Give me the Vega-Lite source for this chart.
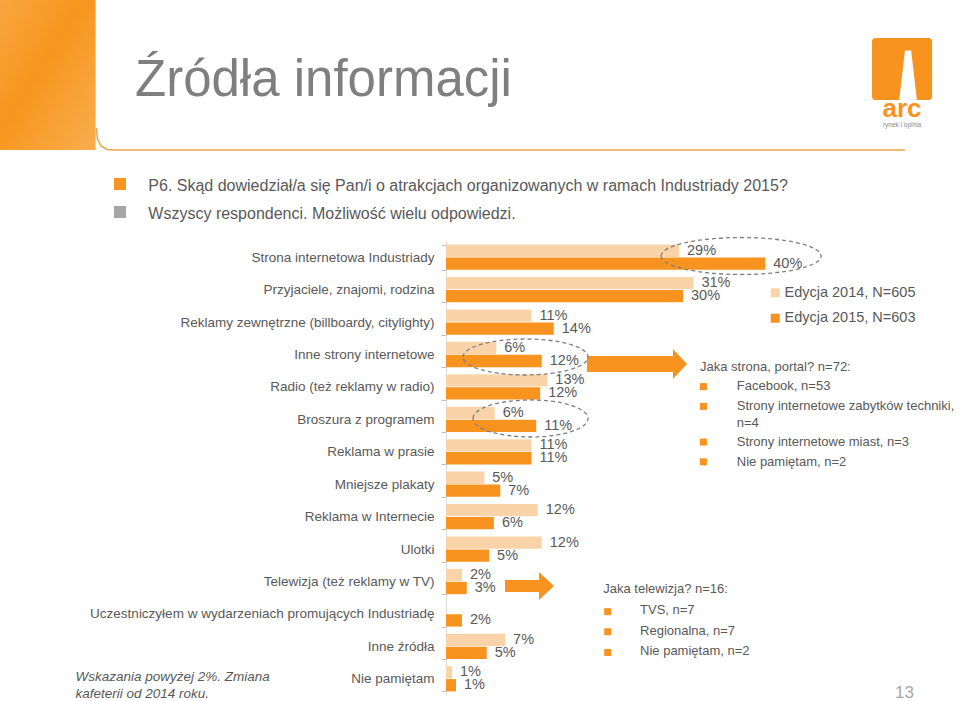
{
  "$schema": "https://vega.github.io/schema/vega-lite/v6.json",
  "width": 514,
  "height": 454,
  "autosize": {"type": "none"},
  "padding": {"left": 446, "top": 241, "right": 0, "bottom": 6},
  "background": "#ffffff",
  "config": {"view": {"stroke": null}, "font": "Liberation Sans"},
  "title": {
    "text": "Źródła informacji",
    "subtitle": ["\u200b\u00a0\u00a0\u00a0P6. Skąd dowiedział/a się Pan/i o atrakcjach organizowanych w ramach Industriady 2015?", "\u200b\u00a0\u00a0\u00a0Wszyscy respondenci. Możliwość wielu odpowiedzi."],
    "anchor": "start",
    "frame": "group",
    "orient": "top",
    "offset": 0,
    "dx": -311,
    "dy": 225,
    "font": "Liberation Sans",
    "fontSize": 51,
    "fontWeight": "normal",
    "color": "#7F7F7F",
    "subtitleFont": "Liberation Sans",
    "subtitleFontSize": 16,
    "subtitleColor": "#595959",
    "subtitleLineHeight": 28,
    "subtitlePadding": 71
  },
  "datasets": {
    "main": [
      {"source": "Strona internetowa Industriady", "series": "Edycja 2014, N=605", "value": 29.2, "label": "29%"},
      {"source": "Strona internetowa Industriady", "series": "Edycja 2015, N=603", "value": 40.0, "label": "40%"},
      {"source": "Przyjaciele, znajomi, rodzina", "series": "Edycja 2014, N=605", "value": 31.0, "label": "31%"},
      {"source": "Przyjaciele, znajomi, rodzina", "series": "Edycja 2015, N=603", "value": 29.7, "label": "30%"},
      {"source": "Reklamy zewnętrzne (billboardy, citylighty)", "series": "Edycja 2014, N=605", "value": 10.7, "label": "11%"},
      {"source": "Reklamy zewnętrzne (billboardy, citylighty)", "series": "Edycja 2015, N=603", "value": 13.5, "label": "14%"},
      {"source": "Inne strony internetowe", "series": "Edycja 2014, N=605", "value": 6.3, "label": "6%"},
      {"source": "Inne strony internetowe", "series": "Edycja 2015, N=603", "value": 12.0, "label": "12%"},
      {"source": "Radio (też reklamy w radio)", "series": "Edycja 2014, N=605", "value": 12.7, "label": "13%"},
      {"source": "Radio (też reklamy w radio)", "series": "Edycja 2015, N=603", "value": 11.8, "label": "12%"},
      {"source": "Broszura z programem", "series": "Edycja 2014, N=605", "value": 6.1, "label": "6%"},
      {"source": "Broszura z programem", "series": "Edycja 2015, N=603", "value": 11.3, "label": "11%"},
      {"source": "Reklama w prasie", "series": "Edycja 2014, N=605", "value": 10.7, "label": "11%"},
      {"source": "Reklama w prasie", "series": "Edycja 2015, N=603", "value": 10.7, "label": "11%"},
      {"source": "Mniejsze plakaty", "series": "Edycja 2014, N=605", "value": 4.8, "label": "5%"},
      {"source": "Mniejsze plakaty", "series": "Edycja 2015, N=603", "value": 6.8, "label": "7%"},
      {"source": "Reklama w Internecie", "series": "Edycja 2014, N=605", "value": 11.5, "label": "12%"},
      {"source": "Reklama w Internecie", "series": "Edycja 2015, N=603", "value": 6.0, "label": "6%"},
      {"source": "Ulotki", "series": "Edycja 2014, N=605", "value": 12.0, "label": "12%"},
      {"source": "Ulotki", "series": "Edycja 2015, N=603", "value": 5.4, "label": "5%"},
      {"source": "Telewizja (też reklamy w TV)", "series": "Edycja 2014, N=605", "value": 2.0, "label": "2%"},
      {"source": "Telewizja (też reklamy w TV)", "series": "Edycja 2015, N=603", "value": 2.6, "label": "3%"},
      {"source": "Uczestniczyłem w wydarzeniach promujących Industriadę", "series": "Edycja 2015, N=603", "value": 2.0, "label": "2%"},
      {"source": "Inne źródła", "series": "Edycja 2014, N=605", "value": 7.4, "label": "7%"},
      {"source": "Inne źródła", "series": "Edycja 2015, N=603", "value": 5.1, "label": "5%"},
      {"source": "Nie pamiętam", "series": "Edycja 2014, N=605", "value": 0.75, "label": "1%"},
      {"source": "Nie pamiętam", "series": "Edycja 2015, N=603", "value": 1.25, "label": "1%"}
    ],
    "notes": [
      {"x": 31.83, "row": 3.876, "text": "Jaka strona, portal? n=72:"},
      {"x": 36.43, "row": 4.47, "text": "Facebook, n=53"},
      {"x": 36.43, "row": 5.08, "text": "Strony internetowe zabytków techniki,"},
      {"x": 36.43, "row": 5.60, "text": "n=4"},
      {"x": 36.43, "row": 6.19, "text": "Strony internetowe miast, n=3"},
      {"x": 36.43, "row": 6.80, "text": "Nie pamiętam, n=2"},
      {"x": 19.7, "row": 10.74, "text": "Jaka telewizja? n=16:"},
      {"x": 24.31, "row": 11.38, "text": "TVS, n=7"},
      {"x": 24.31, "row": 12.02, "text": "Regionalna, n=7"},
      {"x": 24.31, "row": 12.63, "text": "Nie pamiętam, n=2"}
    ],
    "bullets": [
      {"x": 32.25, "row": 4.49, "kind": "list"},
      {"x": 32.25, "row": 5.10, "kind": "list"},
      {"x": 32.25, "row": 6.20, "kind": "list"},
      {"x": 32.25, "row": 6.81, "kind": "list"},
      {"x": 20.26, "row": 11.43, "kind": "list"},
      {"x": 20.26, "row": 12.05, "kind": "list"},
      {"x": 20.26, "row": 12.69, "kind": "list"},
      {"x": -40.85, "row": -1.758, "kind": "question"},
      {"x": -40.85, "row": -0.894, "kind": "respondents"}
    ],
    "callouts": [
      {"id": "arrow1", "x": 23.93, "row": 3.793},
      {"id": "arrow2", "x": 10.46, "row": 10.638},
      {"id": "ellipse1", "x": 36.97, "row": 0.4625},
      {"id": "ellipse2", "x": 9.96, "row": 3.577},
      {"id": "ellipse3", "x": 10.59, "row": 5.473}
    ],
    "page": [{"x": 56.27, "row": 13.94, "text": "13"}],
    "header": [
      {"part": "block", "x": -55.95, "x2": -43.9, "row": -7.5, "row2": -2.806},
      {"part": "logo", "x": 53.38, "x2": 60.9, "row": -6.26, "row2": -4.348},
      {"part": "line", "i": 1, "x": -43.80, "row": -3.485},
      {"part": "line", "i": 2, "x": -43.67, "row": -3.146},
      {"part": "line", "i": 3, "x": -43.23, "row": -2.929},
      {"part": "line", "i": 4, "x": -42.48, "row": -2.821},
      {"part": "line", "i": 5, "x": -41.48, "row": -2.806},
      {"part": "line", "i": 6, "x": 57.52, "row": -2.806},
      {"part": "tower", "x": 57.89, "row": -5.15},
      {"part": "arc", "x": 57.14, "row": -3.824, "text": "arc"},
      {"part": "tagline", "x": 57.14, "row": -3.66, "text": "rynek i opinia"}
    ]
  },
  "resolve": {"scale": {"y": "independent"}},
  "layer": [
    {
      "data": {"name": "main"},
      "encoding": {
        "y": {
          "field": "source", "type": "nominal", "sort": null,
          "scale": {"paddingInner": 0.22, "paddingOuter": 0.11},
          "axis": {
            "title": ["Wskazania powyżej 2%. Zmiana", "kafeterii od 2014 roku."],
            "titleX": -371, "titleY": 439, "titleAngle": 0, "titleAlign": "left", "titleBaseline": "alphabetic",
            "titleFontStyle": "italic", "titleFontWeight": "normal", "titleFontSize": 13.5, "titleColor": "#595959",
            "titleFont": "Liberation Sans", "titleLineHeight": 17,
            "labelFontSize": 13.5, "labelColor": "#595959", "labelFont": "Liberation Sans", "labelLimit": 0,
            "labelPadding": 7, "tickSize": 5, "tickColor": "#BFBFBF", "tickBand": "extent",
            "domainColor": "#D9D9D9", "domainWidth": 1, "grid": false
          }
        },
        "yOffset": {"field": "series", "type": "nominal", "scale": {"paddingInner": 0.05}},
        "x": {"field": "value", "type": "quantitative", "scale": {"domain": [0, 64.4], "nice": false, "zero": true}, "axis": null}
      },
      "layer": [
        {
          "mark": {"type": "bar"},
          "encoding": {
            "color": {
              "field": "series", "type": "nominal",
              "scale": {"domain": ["Edycja 2014, N=605", "Edycja 2015, N=603"], "range": ["#FAD4A8", "#F7931E"]},
              "legend": {
                "orient": "none", "legendX": 322, "legendY": 44.5, "title": null, "direction": "vertical",
                "symbolType": "square", "symbolSize": 81, "symbolStrokeWidth": 0,
                "labelFontSize": 14.5, "labelColor": "#595959", "labelFont": "Liberation Sans",
                "labelOffset": 2, "rowPadding": 10.5, "padding": 0
              }
            }
          }
        },
        {
          "mark": {"type": "text", "align": "left", "baseline": "middle", "dx": 8, "fontSize": 14.5, "color": "#595959", "font": "Liberation Sans"},
          "encoding": {"text": {"field": "label"}}
        }
      ]
    },
    {
      "encoding": {
        "x": {"field": "x", "type": "quantitative", "scale": {"domain": [0, 64.4], "nice": false, "zero": true}, "axis": null},
        "y": {"field": "row", "type": "quantitative", "scale": {"domain": [0, 14], "reverse": true, "nice": false, "zero": false}, "axis": null}
      },
      "layer": [
        {
          "data": {"name": "header"},
          "transform": [{"filter": "datum.part === 'block'"}],
          "mark": {"type": "rect", "fill": {"gradient": "linear", "x1": 0, "y1": 0, "x2": 1, "y2": 1, "stops": [{"offset": 0, "color": "#F8A640"}, {"offset": 0.45, "color": "#F7961F"}, {"offset": 1, "color": "#F8AE4E"}]}},
          "encoding": {"x2": {"field": "x2"}, "y2": {"field": "row2"}}
        },
        {
          "data": {"name": "header"},
          "transform": [{"filter": "datum.part === 'line'"}],
          "mark": {"type": "line", "color": "#EDA24F", "strokeWidth": 1.5},
          "encoding": {"order": {"field": "i", "type": "quantitative"}}
        },
        {
          "data": {"name": "header"},
          "transform": [{"filter": "datum.part === 'logo'"}],
          "mark": {"type": "rect", "fill": "#F7931E", "cornerRadius": 3},
          "encoding": {"x2": {"field": "x2"}, "y2": {"field": "row2"}}
        },
        {
          "data": {"name": "header"},
          "transform": [{"filter": "datum.part === 'tower'"}],
          "mark": {"type": "point", "shape": "M-0.12,-0.9L0.12,-0.9L0.34,1L-0.34,1Z", "size": 2704, "filled": true, "fill": "#ffffff", "opacity": 1, "strokeWidth": 0}
        },
        {
          "data": {"name": "header"},
          "transform": [{"filter": "datum.part === 'arc'"}],
          "mark": {"type": "text", "align": "center", "baseline": "alphabetic", "fontSize": 26, "fontWeight": "bold", "color": "#F7931E", "font": "Liberation Sans"},
          "encoding": {"text": {"field": "text"}}
        },
        {
          "data": {"name": "header"},
          "transform": [{"filter": "datum.part === 'tagline'"}],
          "mark": {"type": "text", "align": "center", "baseline": "top", "fontSize": 6.5, "color": "#888888", "font": "Liberation Sans"},
          "encoding": {"text": {"field": "text"}}
        },
        {
          "data": {"name": "bullets"},
          "transform": [{"filter": "datum.kind === 'list'"}],
          "mark": {"type": "point", "shape": "square", "size": 49, "filled": true, "fill": "#F7931E", "opacity": 1, "strokeWidth": 0}
        },
        {
          "data": {"name": "bullets"},
          "transform": [{"filter": "datum.kind === 'question'"}],
          "mark": {"type": "point", "shape": "square", "size": 144, "filled": true, "fill": "#F7931E", "opacity": 1, "strokeWidth": 0}
        },
        {
          "data": {"name": "bullets"},
          "transform": [{"filter": "datum.kind === 'respondents'"}],
          "mark": {"type": "point", "shape": "square", "size": 144, "filled": true, "fill": "#A6A6A6", "opacity": 1, "strokeWidth": 0}
        },
        {
          "data": {"name": "notes"},
          "mark": {"type": "text", "align": "left", "baseline": "middle", "fontSize": 13, "color": "#595959", "font": "Liberation Sans"},
          "encoding": {"text": {"field": "text"}}
        },
        {
          "data": {"name": "page"},
          "mark": {"type": "text", "align": "left", "baseline": "middle", "fontSize": 17, "color": "#A6A6A6", "font": "Liberation Sans"},
          "encoding": {"text": {"field": "text"}}
        },
        {
          "data": {"name": "callouts"},
          "transform": [{"filter": "datum.id === 'arrow1'"}],
          "mark": {"type": "point", "shape": "M-1,-0.16L0.72,-0.16L0.72,-0.3L1,0L0.72,0.3L0.72,0.16L-1,0.16Z", "size": 10000, "filled": true, "fill": "#F7931E", "opacity": 1, "strokeWidth": 0}
        },
        {
          "data": {"name": "callouts"},
          "transform": [{"filter": "datum.id === 'arrow2'"}],
          "mark": {"type": "point", "shape": "M-1,-0.245L0.388,-0.245L0.388,-0.571L1,0L0.388,0.571L0.388,0.245L-1,0.245Z", "size": 2401, "filled": true, "fill": "#F7931E", "opacity": 1, "strokeWidth": 0}
        },
        {
          "data": {"name": "callouts"},
          "transform": [{"filter": "datum.id === 'ellipse1'"}],
          "mark": {"type": "point", "shape": "M-1,0C-1,-0.1276 -0.5523,-0.231 0,-0.231C0.5523,-0.231 1,-0.1276 1,0C1,0.1276 0.5523,0.231 0,0.231C-0.5523,0.231 -1,0.1276 -1,0Z", "size": 25600, "filled": false, "stroke": "#7F7F7F", "strokeDash": [4, 3], "strokeWidth": 1.3, "opacity": 1}
        },
        {
          "data": {"name": "callouts"},
          "transform": [{"filter": "datum.id === 'ellipse2'"}],
          "mark": {"type": "point", "shape": "M-1,0C-1,-0.159 -0.5523,-0.288 0,-0.288C0.5523,-0.288 1,-0.159 1,0C1,0.159 0.5523,0.288 0,0.288C-0.5523,0.288 -1,0.159 -1,0Z", "size": 15625, "filled": false, "stroke": "#7F7F7F", "strokeDash": [4, 3], "strokeWidth": 1.3, "opacity": 1}
        },
        {
          "data": {"name": "callouts"},
          "transform": [{"filter": "datum.id === 'ellipse3'"}],
          "mark": {"type": "point", "shape": "M-1,0C-1,-0.1777 -0.5523,-0.322 0,-0.322C0.5523,-0.322 1,-0.1777 1,0C1,0.1777 0.5523,0.322 0,0.322C-0.5523,0.322 -1,0.1777 -1,0Z", "size": 13225, "filled": false, "stroke": "#7F7F7F", "strokeDash": [4, 3], "strokeWidth": 1.3, "opacity": 1}
        }
      ]
    }
  ]
}
